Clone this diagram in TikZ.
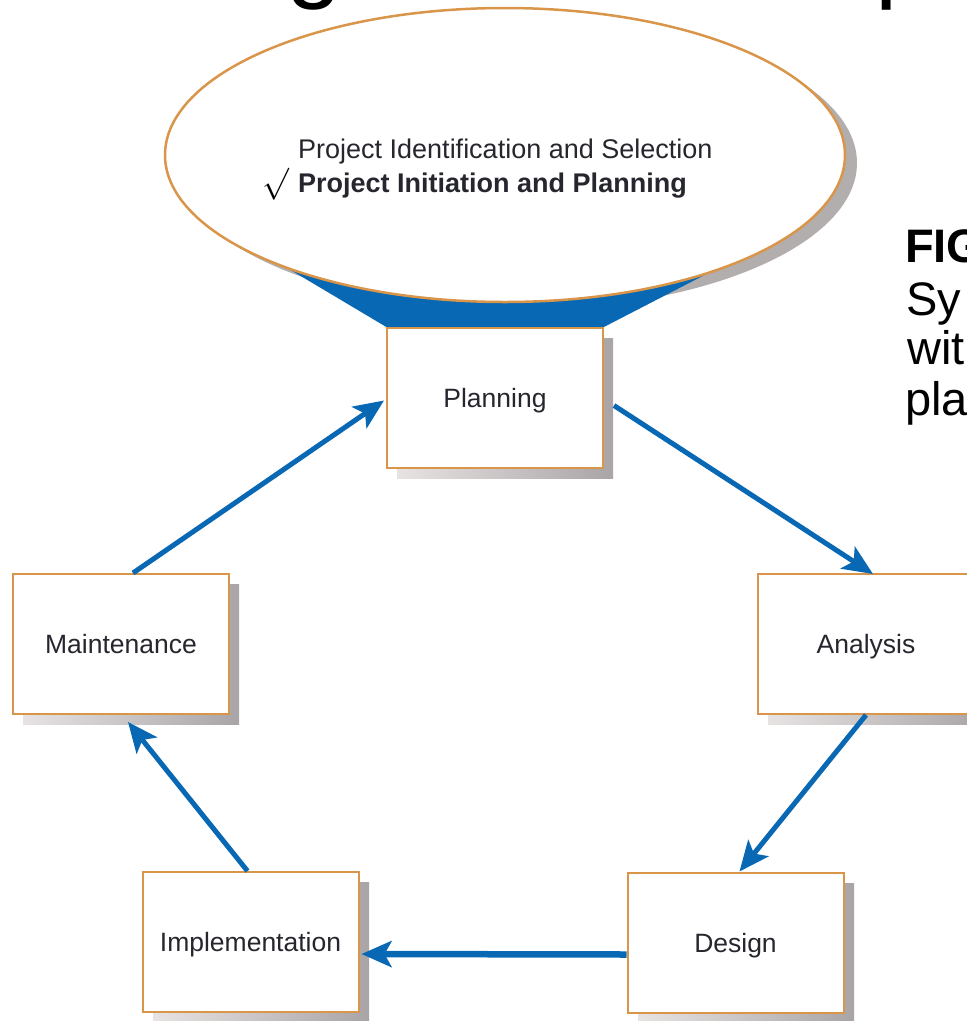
\documentclass[tikz,border=0pt]{standalone}
\usepackage{fontspec}
\usepackage{graphicx}
\setmainfont{Liberation Sans}
\usetikzlibrary{shapes.geometric,arrows.meta}
\definecolor{boxorange}{HTML}{D9954A}
\definecolor{arrowblue}{HTML}{0868B4}
\definecolor{shadowlight}{HTML}{E8E3E3}
\definecolor{shadowdark}{HTML}{A9A4A5}
\definecolor{ellshadow}{HTML}{B3AEAE}
\definecolor{labeltext}{HTML}{26262E}
\tikzset{
  phase/.style={draw=boxorange, line width=2pt, fill=white, minimum width=216pt,
    minimum height=140pt, inner sep=0pt, text height=19pt, text depth=0pt,
    font=\fontsize{26.5}{30}\selectfont, text=labeltext},
  flow/.style={draw=arrowblue, line width=5pt, -{Stealth[length=30pt,width=26pt,inset=7pt]}},
  boxshadow/.style={left color=shadowlight, right color=shadowdark},
  ovaltext/.style={anchor=base west, inner sep=0pt, text=labeltext},
  bigtext/.style={anchor=base west, inner sep=0pt, text=black},
}
\begin{document}
\begin{tikzpicture}[x=1pt,y=-1pt]
\useasboundingbox (0,0) rectangle (967,1021);
\clip (0,0) rectangle (967,1021);

% cropped title fragments
\node[bigtext, font=\fontsize{100}{110}\selectfont] (titleg) at (286,-11) {g};
\node[bigtext, font=\fontsize{100}{110}\selectfont] (titlep) at (875.5,-11) {p};

% cropped caption on the right
\node[bigtext, font=\fontsize{47}{50}\bfseries\selectfont] (cap1) at (905,262) {FIG};
\node[bigtext, font=\fontsize{47}{50}\selectfont] (cap2) at (906,315) {Sy};
\node[bigtext, font=\fontsize{47}{50}\selectfont] (cap3) at (907,364) {wit};
\node[bigtext, font=\fontsize{47}{50}\selectfont] (cap4) at (905,415) {pla};

% ellipse shadow
\fill[ellshadow] (517,163) ellipse [x radius=340, y radius=147];

% blue funnel from the ellipse down to the planning box
\fill[arrowblue] (205,219) -- (388,328) -- (602,328) -- (782,235) -- cycle;

% ellipse
\node[ellipse, draw=boxorange, line width=2.5pt, fill=white, minimum width=680pt,
      minimum height=294pt, inner sep=0pt] (ell) at (505,155) {};
\node[ovaltext, font=\fontsize{27}{30}\selectfont] (sel) at (298,158) {Project Identification and Selection};
\node[ovaltext, font=\fontsize{27}{30}\bfseries\selectfont] (init) at (298,192) {Project Initiation and Planning};
\node[ovaltext, text=black] (chk) at (262,192) {\scalebox{3.2}{$\surd$}};

% shadows of phase boxes
\shade[boxshadow] (397,338) rectangle (613,478);
\shade[boxshadow] (23,584) rectangle (239,724);
\shade[boxshadow] (768,584) rectangle (984,724);
\shade[boxshadow] (638,883) rectangle (854,1023);
\shade[boxshadow] (153,882) rectangle (369,1022);

% phase boxes
\node[phase] (plan) at (495,397.5) {Planning};
\node[phase] (maint) at (121,644) {Maintenance};
\node[phase] (ana) at (866,644) {Analysis};
\node[phase] (impl) at (250.5,942) {Implementation};
\node[phase] (des) at (735.5,942.5) {Design};

% cycle connectors
\draw[flow] ([shift={(10,8)}]plan.east) -- ([shift={(7,1)}]ana.north);
\draw[flow] (ana.south) -- ([shift={(4,0)}]des.north);
\draw[flow, line width=6.5pt] ([shift={(0,12)}]des.west) -- ([shift={(2,12)}]impl.east);
\draw[flow] ([shift={(-3,0)}]impl.north) -- ([shift={(7,7)}]maint.south);
\draw[flow] ([shift={(12,0)}]maint.north) -- ([shift={(-2,3)}]plan.west);
\end{tikzpicture}
\end{document}
